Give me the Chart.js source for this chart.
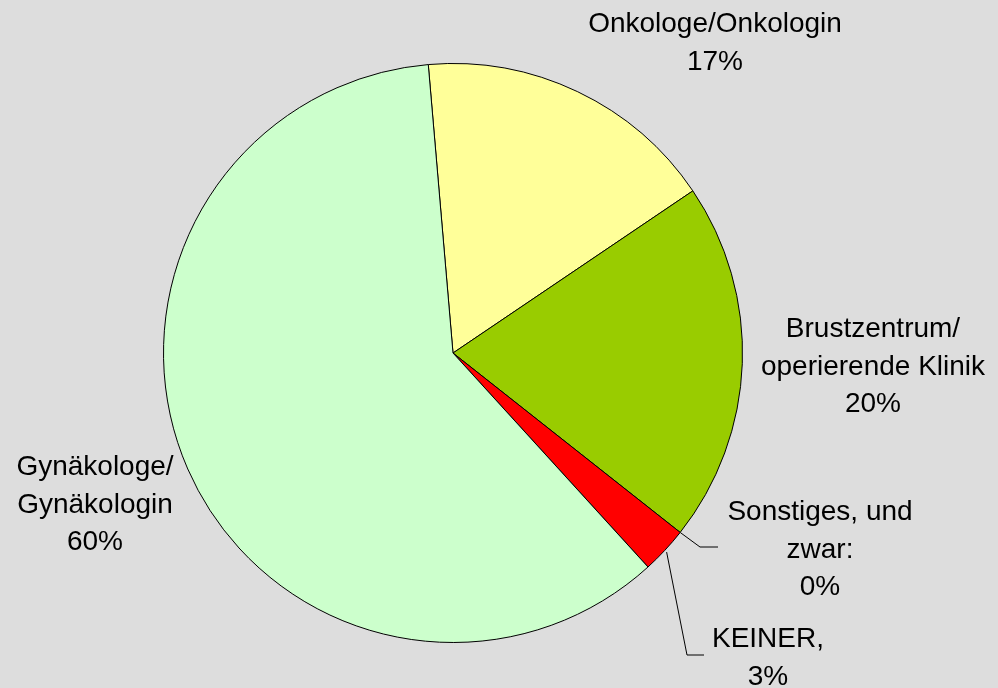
<!DOCTYPE html>
<html>
<head>
<meta charset="utf-8">
<script src="https://cdn.jsdelivr.net/npm/chart.js@4"></script>
<style>
  html, body { margin: 0; padding: 0; background: #DDDDDD; }
  #wrap { width: 998px; height: 688px; position: relative; }
</style>
</head>
<body>
<div id="wrap"><canvas id="c" width="998" height="688"></canvas></div>
<script>
// ---- data ----
const categories = ["Onkologe/Onkologin", "Brustzentrum/ operierende Klinik", "Sonstiges, und zwar:", "KEINER,", "Gynäkologe/ Gynäkologin"];
const labelLines = [
  ["Onkologe/Onkologin"],
  ["Brustzentrum/", "operierende Klinik"],
  ["Sonstiges, und", "zwar:"],
  ["KEINER,"],
  ["Gynäkologe/", "Gynäkologin"]
];
const values = [16.9, 20.1, 0, 2.6, 60.4];
const percentLabels = ["17%", "20%", "0%", "3%", "60%"];

// ---- styles / layout ----
const colors = ["#FFFF99", "#99CC00", "#9999FF", "#FF0000", "#CCFFCC"];
// label anchor: center x and baseline of first line
const labelPos = [
  { x: 715, y: 32 },
  { x: 873, y: 337 },
  { x: 820, y: 520 },
  { x: 768, y: 647 },
  { x: 95,  y: 475 }
];
// leader lines: elbow and end points (null = none)
const leaders = [
  null,
  null,
  { r: 290, elbow: { x: 700, y: 547 }, end: { x: 718, y: 547 } },
  { r: 292, elbow: { x: 687, y: 655 }, end: { x: 704, y: 655 } },
  null
];
const lineHeight = 37.5;

const labelPlugin = {
  id: 'pieLabels',
  afterDatasetsDraw(chart) {
    const ctx = chart.ctx;
    const meta = chart.getDatasetMeta(0);
    ctx.save();
    // leaders
    ctx.strokeStyle = '#000';
    ctx.lineWidth = 1;
    meta.data.forEach((arc, i) => {
      const L = leaders[i];
      if (!L) return;
      const mid = (arc.startAngle + arc.endAngle) / 2;
      const sx = arc.x + Math.cos(mid) * L.r;
      const sy = arc.y + Math.sin(mid) * L.r;
      ctx.beginPath();
      ctx.moveTo(sx, sy);
      ctx.lineTo(L.elbow.x, L.elbow.y);
      ctx.lineTo(L.end.x, L.end.y);
      ctx.stroke();
    });
    // text
    ctx.fillStyle = '#000';
    ctx.font = '28px "Liberation Sans", Arial, sans-serif';
    ctx.textAlign = 'center';
    ctx.textBaseline = 'alphabetic';
    meta.data.forEach((arc, i) => {
      const p = labelPos[i];
      const lines = labelLines[i].concat([percentLabels[i]]);
      lines.forEach((t, k) => ctx.fillText(t, p.x, p.y + k * lineHeight));
    });
    ctx.restore();
  }
};

const bgPlugin = {
  id: 'bg',
  beforeDraw(chart) {
    const ctx = chart.ctx;
    ctx.save();
    ctx.fillStyle = '#DDDDDD';
    ctx.fillRect(0, 0, chart.width, chart.height);
    ctx.restore();
  }
};

new Chart(document.getElementById('c'), {
  type: 'pie',
  data: {
    labels: categories,
    datasets: [{
      data: values,
      backgroundColor: colors,
      borderColor: '#000000',
      borderWidth: 1,
      borderAlign: 'center'
    }]
  },
  options: {
    responsive: false,
    animation: false,
    rotation: -4.9,
    layout: { padding: { left: 163, right: 255, top: 63, bottom: 45 } },
    plugins: {
      legend: { display: false },
      tooltip: { enabled: false },
      title: { display: false }
    }
  },
  plugins: [bgPlugin, labelPlugin]
});
</script>
</body>
</html>
